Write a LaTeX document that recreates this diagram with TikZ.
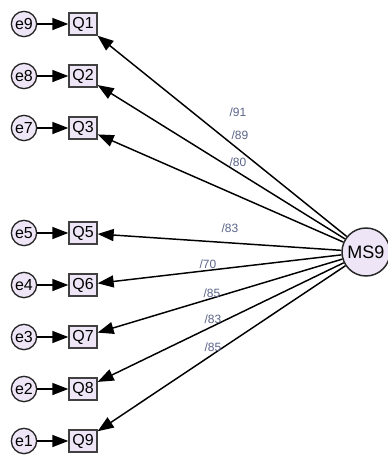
\documentclass[tikz,border=0pt]{standalone}
\usepackage{fontspec}
\setmainfont{Liberation Sans}
\usetikzlibrary{arrows.meta}
\definecolor{fillq}{RGB}{238,230,246}
\definecolor{labc}{RGB}{90,100,135}

\begin{document}
\begin{tikzpicture}[x=0.75pt, y=-0.75pt,
    obs/.style={draw=black!75, line width=1pt, fill=fillq, minimum width=21pt, minimum height=16.5pt, inner sep=0pt, font=\fontsize{12}{14}\selectfont},
    err/.style={circle, draw=black!85, line width=1pt, fill=fillq, minimum size=19pt, inner sep=0pt, font=\fontsize{12}{14}\selectfont},
    lat/.style={circle, draw=black!85, line width=1.1pt, fill=fillq, minimum size=36pt, inner sep=0pt, font=\fontsize{13.5}{15}\selectfont},
    arr/.style={-{Triangle[length=12pt,width=9pt]}, line width=1.1pt},
    wt/.style={font=\fontsize{9}{10}\selectfont, text=labc}]
    \useasboundingbox (0,0) rectangle (387,457);

    \node[lat] (ms) at (366,252) {MS9};

    \foreach \i/\e/\y in {1/9/24, 2/8/76, 3/7/128, 5/5/233, 6/4/285, 7/3/337, 8/2/389, 9/1/441} {
        \node[obs] (q\i) at (83,\y) {Q\i};
        \node[err] (e\e) at (24,\y) {e\e};
        \draw[arr] (e\e) -- (q\i);
        \draw[arr] (ms) -- (q\i);
    }

    % loadings
    \foreach \n/\x/\y/\t in {a/238/112/91, b/240/135/89, c/238/162/80, d/230/228/83, e/208/264/70, f/212/293/85, g/213/319/83, h/213/347/85} {
        \node[wt] (w\n) at (\x,\y) {/\t};
    }
\end{tikzpicture}
\end{document}
